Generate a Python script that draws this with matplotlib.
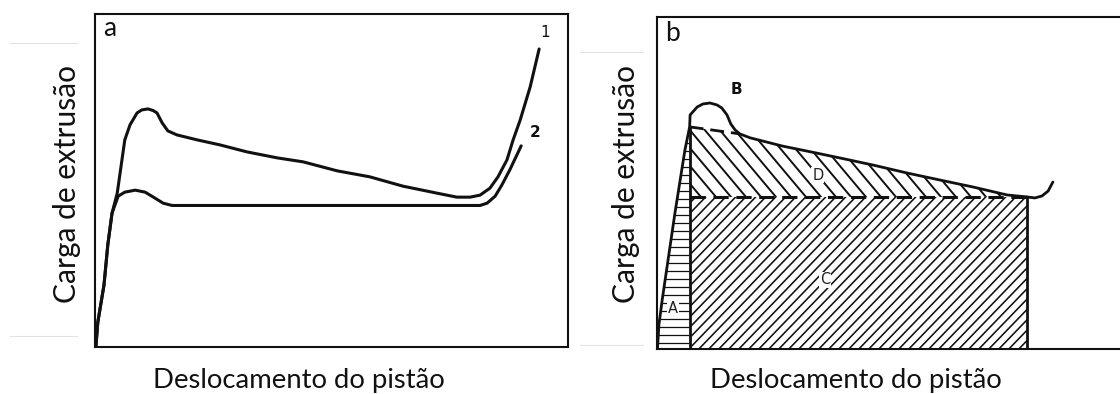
import numpy as np
import matplotlib
matplotlib.use("Agg")
import matplotlib.pyplot as plt
from matplotlib.path import Path
from matplotlib.patches import PathPatch
from matplotlib.collections import LineCollection
from matplotlib.lines import Line2D
from matplotlib.transforms import IdentityTransform

# ---------------- data (arbitrary units: displacement 0-100, load 0-100) ----------------
# panel a, curve 1 (pronounced peak, falling plateau)
disp_1 = [0.2, 0.6, 1.9, 2.7, 3.6, 4.7, 5.7, 6.3, 7.4, 8.9, 9.9, 11.2, 12.3, 13.1, 14.2,
          15.4, 17.3, 21.6, 26.4, 32.1, 38.5, 44.0, 51.2, 58.1, 65.1, 72.3, 76.5, 79.3,
          81.4, 83.5, 85.2, 87.1, 88.4, 89.9, 92.0, 93.9]
load_1 = [0.3, 7.5, 18.6, 30.6, 40.2, 46.2, 56.2, 62.2, 66.7, 70.3, 71.2, 71.5, 71.0, 70.3,
          67.3, 64.9, 63.7, 62.2, 60.7, 58.6, 56.8, 55.6, 52.9, 51.1, 48.3, 46.2, 45.0,
          45.0, 45.6, 47.7, 51.1, 56.2, 62.2, 68.2, 78.1, 89.5]
# panel a, curve 2 (small peak, flat plateau)
disp_2 = [0.2, 0.6, 1.9, 2.7, 3.6, 4.9, 6.3, 8.5, 10.6, 12.7, 14.4, 16.3, 81.4, 82.9,
          84.6, 86.0, 87.7, 90.1]
load_2 = [0.3, 7.5, 18.6, 30.6, 40.2, 45.3, 46.5, 47.1, 46.5, 44.7, 43.2, 42.5, 42.5, 43.2,
          45.3, 48.6, 53.2, 60.4]

# panel b, load-displacement curve
disp_b = [0.1, 0.4, 1.1, 3.8, 5.9, 6.9, 7.0, 8.5, 9.7, 11.2, 12.7, 13.7, 14.8, 15.6, 16.5,
          17.5, 19.7, 26.6, 33.8, 40.8, 45.7, 52.9, 59.8, 66.8, 74.0, 78.2]
load_b = [0.0, 7.2, 14.8, 41.0, 59.9, 66.9, 70.5, 72.9, 73.8, 74.1, 73.5, 72.6, 70.5, 67.8,
          66.0, 64.8, 63.6, 61.1, 59.0, 56.9, 55.4, 53.0, 50.9, 48.8, 46.4, 45.8]
# short rise after the steady stage
tail_disp = [78.2, 79.9, 81.4, 82.7, 83.7]
tail_load = [45.8, 45.5, 46.1, 47.6, 50.3]
# extrapolated friction line under the breakthrough peak
extrap_disp = [6.9, 17.5]
extrap_load = [66.9, 64.8]
split_disp = 6.9      # end of the upsetting stage
end_disp = 78.2       # end of steady extrusion
steady_load = 45.8    # steady load level

curve_labels = ["1", "2"]
region_labels = ["A", "B", "C", "D"]
region_pos = [(3.4, 12.3), (16.9, 78.3), (35.5, 20.8), (34.0, 52.4)]

xlabel_text = "Deslocamento do pistão"
ylabel_text = "Carga de extrusão"

# ---------------- figure ----------------
W, H = 1120, 394
fig = plt.figure(figsize=(W / 100, H / 100), dpi=100)
fig.patch.set_facecolor("white")


def axes_px(left, right, top, bottom):
    return fig.add_axes([left / W, (H - bottom) / H, (right - left) / W, (bottom - top) / H])


ax_a = axes_px(95, 568, 14, 347)
ax_b = axes_px(657, 1130, 17, 349)
for ax in (ax_a, ax_b):
    ax.set_xlim(0, 100)
    ax.set_ylim(0, 100)
    ax.set_xticks([])
    ax.set_yticks([])
    for sp in ax.spines.values():
        sp.set_linewidth(1.5)
        sp.set_color("#111111")

ink = "#111111"

# ---- panel a ----
ax_a.plot(disp_1, load_1, color=ink, lw=2.2, solid_joinstyle="round", solid_capstyle="round")
ax_a.plot(disp_2, load_2, color=ink, lw=2.2, solid_joinstyle="round", solid_capstyle="round")
ax_a.text(95.1, 94.3, curve_labels[0], fontsize=11, ha="center", va="center", color=ink)
ax_a.text(93.0, 64.3, curve_labels[1], fontsize=11, ha="center", va="center", color=ink,
          fontweight="bold")
ax_a.text(1.8, 95.5, "a", fontsize=19, family="Lato", ha="left", va="center", color=ink)

# ---- panel b: hatched regions ----
bx = np.array(disp_b)
by = np.array(load_b)


def clip_patch(ax, verts):
    p = PathPatch(Path(verts), facecolor="none", edgecolor="none", transform=ax.transData)
    ax.add_patch(p)
    return p


def hatch(ax, verts, kind, spacing, angle, lw, color=ink):
    patch = clip_patch(ax, verts)
    pts = ax.transData.transform(np.asarray(verts))
    x0, y0 = pts.min(axis=0) - 2
    x1, y1 = pts.max(axis=0) + 2
    segs = []
    if kind == "-":
        for y in np.arange(y0, y1, spacing):
            segs.append([(x0, y), (x1, y)])
    else:
        run = (y1 - y0) / np.tan(np.radians(angle))
        if kind == "/":
            for c in np.arange(x0 - run, x1, spacing):
                segs.append([(c, y0), (c + run, y1)])
        else:
            for c in np.arange(x0, x1 + run, spacing):
                segs.append([(c, y0), (c - run, y1)])
    lc = LineCollection(segs, colors=color, linewidths=lw, transform=IdentityTransform())
    ax.add_collection(lc)
    lc.set_clip_path(patch)


# A: upsetting stage (triangle under the rising branch)
mask_a = bx <= split_disp
verts_a = list(zip(bx[mask_a], by[mask_a])) + [(split_disp, 0.0), (bx[0], 0.0)]
hatch(ax_b, verts_a, "-", 8.0, 0, 0.9)

# C: steady-state work
verts_c = [(split_disp, 0.0), (end_disp, 0.0), (end_disp, steady_load), (split_disp, steady_load)]
hatch(ax_b, verts_c, "/", 10.0, 46, 1.15)

# D: friction work above the steady level
mask_d = (bx >= extrap_disp[1]) & (bx <= end_disp)
verts_d = ([(extrap_disp[0], extrap_load[0])] + list(zip(bx[mask_d], by[mask_d])) +
           [(end_disp, steady_load), (split_disp, steady_load)])
hatch(ax_b, verts_d, "\\", 15.0, 50, 1.4)

# ---- panel b: outlines ----
ax_b.plot(disp_b, load_b, color=ink, lw=2.0, solid_joinstyle="round", solid_capstyle="round")
ax_b.plot(tail_disp, tail_load, color=ink, lw=2.0, solid_capstyle="round")
ax_b.plot([split_disp, split_disp], [0, load_b[5]], color=ink, lw=2.0)
ax_b.plot([end_disp, end_disp], [0, steady_load], color=ink, lw=2.0)
ax_b.plot(extrap_disp, extrap_load, color=ink, lw=2.0, linestyle=(0, (5, 2.5)))
ax_b.plot([split_disp, end_disp], [steady_load, steady_load], color=ink, lw=2.2,
          linestyle=(0, (5, 2.5)))

for lab, (x, y) in zip(region_labels, region_pos):
    if lab == "B":
        ax_b.text(x, y, lab, fontsize=11, fontweight="bold", ha="center", va="center", color=ink)
    else:
        ax_b.text(x, y, lab, fontsize=10.5, ha="center", va="center", color="#222222",
                  bbox=dict(boxstyle="square,pad=0.05", fc="white", ec="none"))
ax_b.text(1.8, 95.0, "b", fontsize=19, family="Lato", ha="left", va="center", color=ink)

# ---- axis titles, sized to their measured extent ----
renderer = fig.canvas.get_renderer()


def fitted_text(x_px, y_px, s, length_px, rotation=0, va="center"):
    t = fig.text(x_px / W, (H - y_px) / H, s, fontsize=20, family="Lato", ha="center",
                 va=va, rotation=rotation, color="#111111")
    bb = t.get_window_extent(renderer)
    cur = bb.height if rotation else bb.width
    t.set_fontsize(20 * length_px / cur)
    return t


fitted_text(299, 388, xlabel_text, 292, va="baseline")
fitted_text(856, 388, xlabel_text, 292, va="baseline")
fitted_text(67, 184, ylabel_text, 238, rotation=90)
fitted_text(626, 184, ylabel_text, 238, rotation=90)

# faint edges of the pasted panels
for (xa, xb, y) in [(10, 77, 43), (10, 77, 336), (580, 643, 52), (580, 643, 345)]:
    fig.add_artist(Line2D([xa / W, xb / W], [(H - y) / H] * 2, color="#e2e2e2", lw=0.8))

fig.savefig("out.png", dpi=100, facecolor="white")
